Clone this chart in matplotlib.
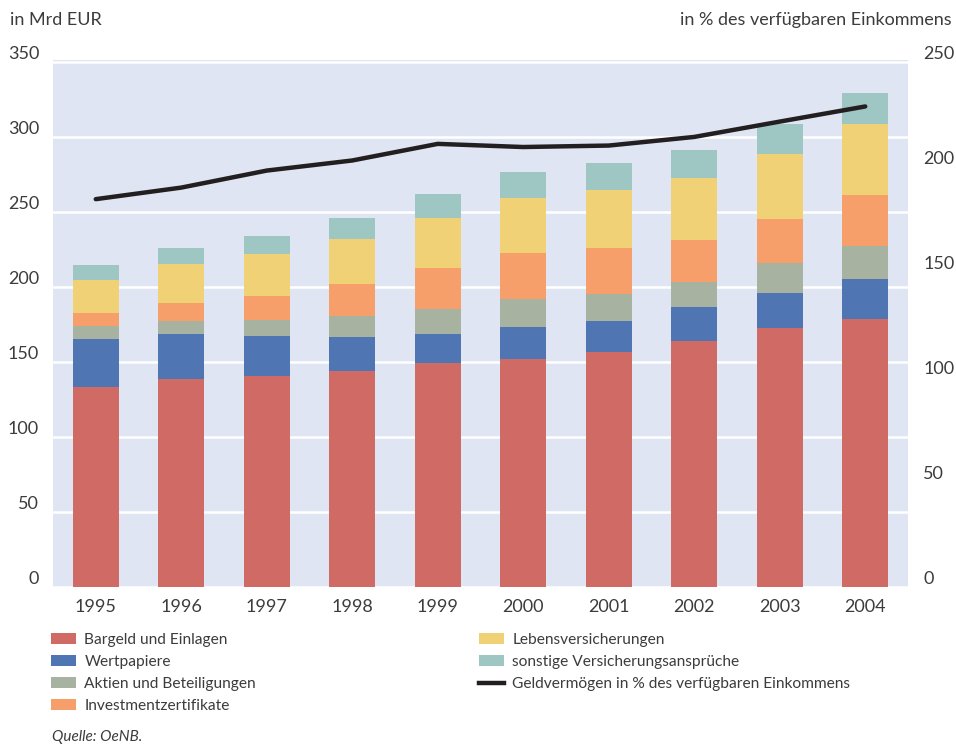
"""Geldvermögen der privaten Haushalte 1995-2004 (OeNB), gestapelte Balken + Quote."""

import matplotlib
matplotlib.use("Agg")
import matplotlib.pyplot as plt
from matplotlib.patches import Patch
from matplotlib.lines import Line2D
from matplotlib.transforms import ScaledTranslation

# --- data (Mrd EUR) ---------------------------------------------------------
years = ["1995", "1996", "1997", "1998", "1999", "2000", "2001", "2002", "2003", "2004"]
bargeld = [133.0, 138.5, 140.5, 143.8, 149.1, 151.8, 156.5, 163.8, 172.5, 178.5]
wertpapiere = [32.0, 30.0, 26.6, 22.7, 19.4, 21.3, 20.6, 22.7, 23.3, 26.6]
aktien = [8.7, 8.6, 10.7, 14.0, 16.6, 18.7, 18.0, 16.6, 20.0, 22.0]
investment = [8.7, 12.0, 16.0, 21.3, 27.4, 30.7, 30.7, 28.0, 29.3, 34.0]
leben = [22.0, 26.0, 28.0, 30.0, 33.3, 36.6, 38.7, 41.4, 43.4, 47.4]
sonstige = [10.0, 10.7, 12.0, 14.0, 16.0, 17.4, 18.0, 18.6, 20.0, 20.6]
# in % des verfügbaren Einkommens
quote = [184.5, 190.0, 198.1, 202.9, 210.8, 209.3, 210.0, 214.1, 221.4, 228.6]

series = [
    ("Bargeld und Einlagen", bargeld, "#D06A64"),
    ("Wertpapiere", wertpapiere, "#4F76B3"),
    ("Aktien und Beteiligungen", aktien, "#A7B2A0"),
    ("Investmentzertifikate", investment, "#F79F6A"),
    ("Lebensversicherungen", leben, "#F0D176"),
    ("sonstige Versicherungsansprüche", sonstige, "#9EC6C2"),
]
line_label = "Geldvermögen in % des verfügbaren Einkommens"

TXT = "#3c3c3c"
plt.rcParams["font.family"] = ["Lato", "DejaVu Sans"]

fig = plt.figure(figsize=(9.56, 7.45), dpi=100)
ax = fig.add_axes([53 / 956, 1 - 587 / 745, (908 - 53) / 956, (587 - 60) / 745])
ax.set_facecolor("#DFE5F2")

x = list(range(len(years)))
bottom = [0.0] * len(years)
for name, vals, col in series:
    ax.bar(x, vals, width=0.54, bottom=bottom, color=col, label=name, zorder=2)
    bottom = [b + v for b, v in zip(bottom, vals)]

ax.set_xlim(-0.5, len(years) - 0.5)
ax.set_ylim(0, 351)
ax.set_yticks(range(0, 351, 50))
ax.yaxis.grid(True, color="white", linewidth=1.8)
ax.set_axisbelow(True)
ax.set_xticks(x)
ax.set_xticklabels(years)
for s in ax.spines.values():
    s.set_visible(False)
ax.tick_params(axis="both", length=0, labelsize=13, colors=TXT)
ax.tick_params(axis="x", pad=9)
ax.tick_params(axis="y", pad=10)

ax2 = ax.twinx()
ax2.plot(x, quote, color="#231F20", linewidth=3.2, solid_capstyle="round", zorder=5)
ax2.set_ylim(0, 250.7)
ax2.set_yticks(range(0, 251, 50))
for s in ax2.spines.values():
    s.set_visible(False)
ax2.tick_params(axis="y", length=0, labelsize=13, colors=TXT, pad=11)

# tick labels sit just above their gridline
shift = ScaledTranslation(0, 2 / 72, fig.dpi_scale_trans)
for lab in ax.get_yticklabels() + ax2.get_yticklabels():
    lab.set_verticalalignment("baseline")
    lab.set_transform(lab.get_transform() + shift)

fig.text(10 / 956, 1 - 20 / 745, "in Mrd EUR", fontsize=13, color=TXT, va="center", ha="left")
fig.text(952 / 956, 1 - 20 / 745, "in % des verfügbaren Einkommens", fontsize=13,
         color=TXT, va="center", ha="right")

# legend in two columns
h1 = [Patch(facecolor=c, label=n) for n, _, c in series[:4]]
h2 = [Patch(facecolor=c, label=n) for n, _, c in series[4:]]
h2.append(Line2D([0], [0], color="#231F20", linewidth=3.2, label=line_label))
leg_kw = dict(frameon=False, fontsize=11.2, labelcolor=TXT, handlelength=1.6,
              handleheight=0.7, handletextpad=0.55, labelspacing=0.52, borderpad=0,
              borderaxespad=0, loc="upper left")
fig.legend(handles=h1, bbox_to_anchor=(51 / 956, 1 - 633 / 745), **leg_kw)
fig.legend(handles=h2, bbox_to_anchor=(479 / 956, 1 - 633 / 745), **leg_kw)

fig.text(52 / 956, 1 - 737 / 745, "Quelle: OeNB.", fontsize=11, style="italic",
         color=TXT, va="center", ha="left")

fig.savefig("out.png", dpi=100)
